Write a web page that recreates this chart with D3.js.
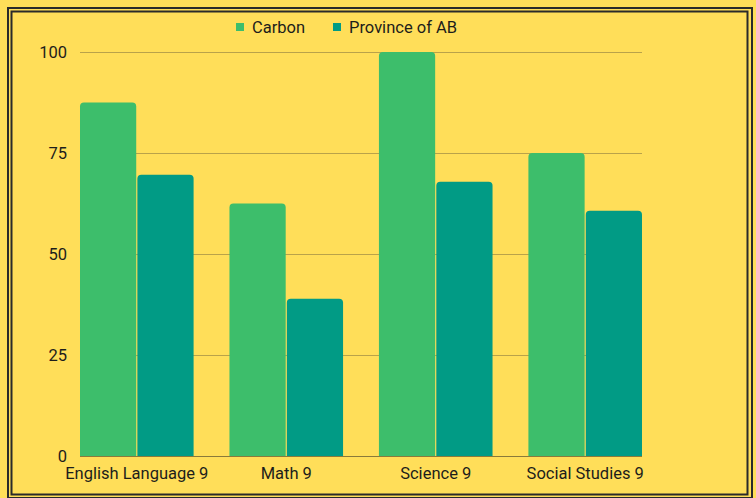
<!DOCTYPE html>
<html lang="en">
<head>
<meta charset="UTF-8">
<title>Carbon vs Province of AB</title>
<script src="https://d3js.org/d3.v7.min.js"></script>
<style>
  body { margin: 0; background: #ffde59; }
  text { font-family: Roboto, "Noto Sans", sans-serif; fill: #1d1d1b; }
</style>
</head>
<body>
<div id="chart"></div>
<script>
// data
var subjects = ["English Language 9", "Math 9", "Science 9", "Social Studies 9"];
var seriesNames = ["Carbon", "Province of AB"];
var carbon = [87.5, 62.5, 100, 75];
var province = [69.6, 38.9, 67.9, 60.7];
var yTicks = [0, 25, 50, 75, 100];
var colors = ["#3dbe6b", "#019b85"];

var W = 756, H = 498;
var svg = d3.select("#chart").append("svg")
  .attr("width", W).attr("height", H);

svg.append("rect").attr("width", W).attr("height", H).attr("fill", "#ffde59");

// double frame
svg.append("rect").attr("x", 8).attr("y", 8).attr("width", 744).attr("height", 490)
  .attr("fill", "none").attr("stroke", "#2a2a2a").attr("stroke-width", 2);
svg.append("rect").attr("x", 11.5).attr("y", 11.5).attr("width", 736).attr("height", 483)
  .attr("fill", "none").attr("stroke", "#2a2a2a").attr("stroke-width", 2);

var x0 = d3.scaleBand().domain(subjects).range([80, 642]).paddingInner(0.24).paddingOuter(0);
var x1 = d3.scaleBand().domain(seriesNames).range([0, x0.bandwidth()]).paddingInner(0.02);
var y = d3.scaleLinear().domain([0, 100]).range([456, 52]);

// gridlines
svg.append("g").selectAll("line").data(yTicks).join("line")
  .attr("x1", 80).attr("x2", 642)
  .attr("y1", function(d) { return y(d) + 0.5; })
  .attr("y2", function(d) { return y(d) + 0.5; })
  .attr("stroke", function(d) { return d === 0 ? "#8a7a3a" : "#b9a24a"; })
  .attr("stroke-width", 1);

// y tick labels
svg.append("g").selectAll("text").data(yTicks).join("text")
  .attr("x", 67).attr("y", function(d) { return y(d); })
  .attr("dy", "0.35em").attr("text-anchor", "end")
  .style("font-size", "16.5px")
  .text(function(d) { return d; });

// bars with rounded tops
function barPath(x, yTop, w, yBot, r) {
  r = Math.min(r, w / 2, yBot - yTop);
  return "M" + x + "," + yBot + "V" + (yTop + r) +
    "Q" + x + "," + yTop + " " + (x + r) + "," + yTop +
    "H" + (x + w - r) + "Q" + (x + w) + "," + yTop + " " + (x + w) + "," + (yTop + r) +
    "V" + yBot + "Z";
}

var rows = subjects.map(function(s, i) {
  return { subject: s, values: [carbon[i], province[i]] };
});

var groups = svg.append("g").selectAll("g").data(rows).join("g")
  .attr("transform", function(d) { return "translate(" + x0(d.subject) + ",0)"; });

groups.selectAll("path").data(function(d) {
  return d.values.map(function(v, j) { return { key: seriesNames[j], value: v, j: j }; });
}).join("path")
  .attr("fill", function(d) { return colors[d.j]; })
  .attr("d", function(d) {
    return barPath(x1(d.key), y(d.value), x1.bandwidth(), y(0), 4);
  });

// category labels
svg.append("g").selectAll("text").data(subjects).join("text")
  .attr("x", function(d) { return x0(d) + x0.bandwidth() / 2; })
  .attr("y", 479)
  .attr("text-anchor", "middle")
  .style("font-size", "16.5px")
  .text(function(d) { return d; });

// legend
var legendX = [236, 333];
var legend = svg.append("g").selectAll("g").data(seriesNames).join("g")
  .attr("transform", function(d, i) { return "translate(" + legendX[i] + ",23)"; });
legend.append("rect").attr("width", 8).attr("height", 8)
  .attr("fill", function(d, i) { return colors[i]; });
legend.append("text").attr("x", 16).attr("y", 4).attr("dy", "0.35em")
  .style("font-size", "16.5px")
  .text(function(d) { return d; });
</script>
</body>
</html>
